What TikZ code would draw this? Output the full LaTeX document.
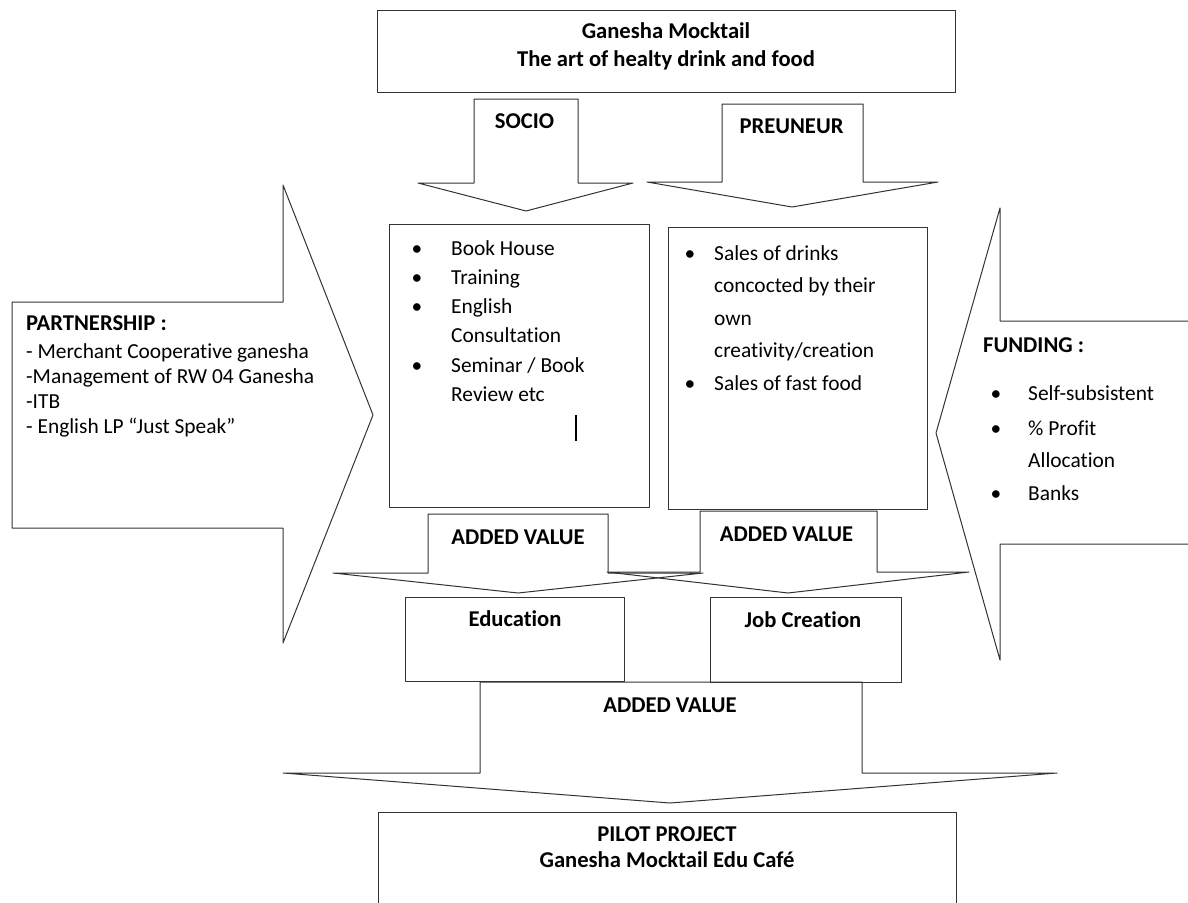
\documentclass[tikz,border=0pt]{standalone}
\usepackage{fontspec}
\setmainfont{Carlito}[Ligatures=NoCommon]
\begin{document}
\begin{tikzpicture}[x=1pt,y=-1pt,
  outline/.style={draw=black!80, line width=1pt, line join=round},
  box/.style={outline, rectangle, inner sep=0pt},
  txt/.style={inner sep=0pt, font=\fontsize{21.4}{25}\selectfont},
  btxt/.style={inner sep=0pt, font=\fontsize{22.6}{25}\selectfont\bfseries}]
\useasboundingbox (0,0) rectangle (1188,902);
\fill[white] (0,0) rectangle (1188,902);
\clip (0,0) rectangle (1188,902);

% boxes
\node[box, minimum width=578pt, minimum height=82pt] (top) at (666,51) {};
\node[box, minimum width=260pt, minimum height=283pt] (socbox) at (519,365.5) {};
\node[box, minimum width=259pt, minimum height=282pt] (prebox) at (797.5,368) {};
\node[box, minimum width=219pt, minimum height=84pt] (edu) at (514.5,639) {};
\node[box, minimum width=191pt, minimum height=85pt] (job) at (805.5,639.5) {};
\node[box, minimum width=578pt, minimum height=128pt] (pilot) at (667,876) {};

% block arrows
\draw[outline] (12,302) -- (283,302) -- (283,185) -- (373,415) -- (283,643) -- (283,528) -- (12,528) -- cycle;
\draw[outline] (1200,321) -- (1000,321) -- (1000,208) -- (936,433) -- (1000,660) -- (1000,544) -- (1200,544);
\draw[outline] (474,99) -- (578,99) -- (578,183) -- (633,183) -- (526,211) -- (418,183) -- (474,183) -- cycle;
\draw[outline] (722,104) -- (863,104) -- (863,182) -- (938,182) -- (792,207) -- (647,182) -- (722,182) -- cycle;
\draw[outline] (428,514) -- (608,514) -- (608,573) -- (703,573) -- (518,593) -- (333,573) -- (428,573) -- cycle;
\draw[outline] (700,511) -- (877,511) -- (877,572) -- (969,572) -- (788,593) -- (607,572) -- (700,572) -- cycle;
\draw[outline] (480,682) -- (862,682) -- (862,773) -- (1057,773) -- (670,803) -- (283,773) -- (480,773) -- cycle;

% titles
\node[btxt, anchor=base] (titleA) at (666,38) {Ganesha Mocktail};
\node[btxt, anchor=base] (titleB) at (666,66) {The art of healty drink and food};
\node[btxt, anchor=base] (socio) at (524.5,128) {SOCIO};
\node[btxt, anchor=base] (preneur) at (791.5,133) {PREUNEUR};
\node[btxt, anchor=base] (avL) at (518,544) {ADDED VALUE};
\node[btxt, anchor=base] (avR) at (786.5,541) {ADDED VALUE};
\node[btxt, anchor=base] (avB) at (670,712) {ADDED VALUE};
\node[btxt, anchor=base] (eduT) at (515,626) {Education};
\node[btxt, anchor=base] (jobT) at (803,627) {Job Creation};
\node[btxt, anchor=base] (pilotA) at (667,841) {PILOT PROJECT};
\node[btxt, anchor=base] (pilotB) at (667,867) {Ganesha Mocktail Edu Café};

% partnership
\node[btxt, anchor=base west] (partT) at (26,330) {PARTNERSHIP :};
\foreach \t/\yy [count=\i] in {- Merchant Cooperative ganesha/358, -Management of RW 04 Ganesha/383, -ITB/408, - English LP “Just Speak”/433}
  \node[txt, anchor=base west] (part\i) at (26,\yy) {\t};

% funding
\node[btxt, anchor=base west] (fundT) at (983,352) {FUNDING :};
\foreach \t/\yy [count=\i] in {Self-subsistent/400, {\% Profit}/435, Allocation/467, Banks/500}
  \node[txt, anchor=base west] (fund\i) at (1028,\yy) {\t};
\foreach \yy [count=\i] in {400,435,500}
  \node[txt, anchor=base] (fundb\i) at (996,\yy) {\textbullet};

% socio list
\foreach \t/\yy [count=\i] in {Book House/255, Training/284, English/313, Consultation/342, {Seminar / Book}/372, Review etc/401}
  \node[txt, anchor=base west] (soc\i) at (451,\yy) {\t};
\foreach \yy [count=\i] in {255,284,313,372}
  \node[txt, anchor=base] (socb\i) at (417,\yy) {\textbullet};
\coordinate (caretA) at (576,415);
\coordinate (caretB) at (576,441);
\draw[black, line width=1.2pt] (caretA) -- (caretB);

% preneur list
\foreach \t/\yy [count=\i] in {Sales of drinks/260, concocted by their/292.5, own/325, {creativity/creation}/357.5, Sales of fast food/390}
  \node[txt, anchor=base west] (pre\i) at (714,\yy) {\t};
\foreach \yy [count=\i] in {260,390}
  \node[txt, anchor=base] (preb\i) at (690,\yy) {\textbullet};
\end{tikzpicture}
\end{document}
